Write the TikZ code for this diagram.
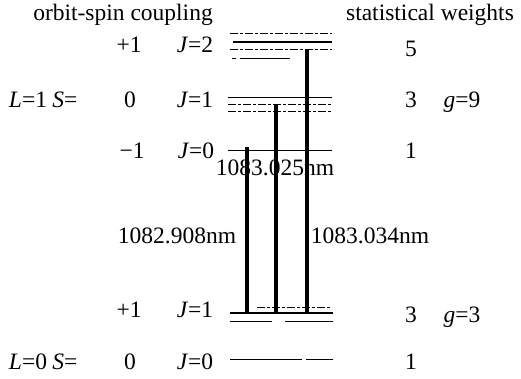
\documentclass[tikz,border=0pt]{standalone}
\usepackage{fontspec}
\setmainfont{Liberation Serif}
\newfontfamily\tmsfont{Liberation Serif}
\begin{document}
\begin{tikzpicture}[x=1pt,y=-1pt,
  lbl/.style={anchor=base,inner sep=0pt,font=\tmsfont\fontsize{23.5}{27}\selectfont},
  lvl/.style={line width=0.9pt},
  lvlthick/.style={line width=1.4pt},
  lvldash/.style={line width=0.8pt,dash pattern=on 8pt off 2pt on 3pt off 2pt},
  trans/.style={line width=3.2pt}]
\useasboundingbox (0,0) rectangle (521,378);
% headers
\node[lbl] (h1) at (123,20) {orbit-spin coupling};
\node[lbl] (h2) at (430,20) {statistical weights};
% J=2 row
\node[lbl] (p2) at (129,52) {+1};
\node[lbl] (j2) at (195,52) {\textit{J}=2};
\node[lbl] (w5) at (411,56) {5};
% J=1 upper row
\node[lbl] (L1) at (28,107) {\textit{L}=1};
\node[lbl] (S1) at (65,107) {\textit{S}=};
\node[lbl] (z1) at (130,107) {0};
\node[lbl] (j1) at (195,107) {\textit{J}=1};
\node[lbl] (w3) at (411,107) {3};
\node[lbl] (g9) at (462,107) {\textit{g}=9};
% J=0 upper row
\node[lbl] (m1) at (132,158) {−1};
\node[lbl] (j0) at (196,158) {\textit{J}=0};
\node[lbl] (w1) at (411,158) {1};
% wavelengths
\node[lbl] (l25) at (275,175) {1083.025nm};
\node[lbl] (l08) at (177,243) {1082.908nm};
\node[lbl] (l34) at (370,243) {1083.034nm};
% lower J=1 row
\node[lbl] (p1b) at (129,317) {+1};
\node[lbl] (j1b) at (195,317) {\textit{J}=1};
\node[lbl] (w3b) at (411,322) {3};
\node[lbl] (g3) at (462,322) {\textit{g}=3};
% bottom row
\node[lbl] (L0) at (28,369) {\textit{L}=0};
\node[lbl] (S0) at (65,369) {\textit{S}=};
\node[lbl] (z0) at (130,369) {0};
\node[lbl] (j0b) at (195,369) {\textit{J}=0};
\node[lbl] (w1b) at (411,369) {1};
% level lines: J=2
\draw[lvldash] (230,33) -- (332,33);
\draw[lvlthick] (233,42) -- (332,42);
\draw[lvldash] (230,49) -- (332,49);
\draw[lvl] (232,58) -- (236,58);
\draw[lvl] (240,58) -- (290,58);
% J=1 upper
\draw[lvl] (228,97) -- (332,97);
\draw[lvldash] (228,104) -- (332,104);
\draw[lvldash] (228,111) -- (332,111);
% J=0 upper
\draw[line width=0.7pt] (228,150) -- (332,150);
% J=1 lower
\draw[lvldash] (257,307) -- (332,307);
\draw[lvlthick] (230,313) -- (333,313);
\draw[lvl] (230,321) -- (272,321);
\draw[lvl] (285,321) -- (333,321);
% J=0 lower
\draw[lvl] (230,359) -- (302,359);
\draw[lvl] (306,359) -- (333,359);
% transitions
\coordinate (t1) at (247,147);
\coordinate (b1) at (247,313);
\coordinate (t2) at (276,104);
\coordinate (b2) at (276,313);
\coordinate (t3) at (307,49);
\coordinate (b3) at (307,313);
\draw[trans] (t1) -- (b1);
\draw[trans] (t2) -- (b2);
\draw[trans] (t3) -- (b3);
\end{tikzpicture}
\end{document}
